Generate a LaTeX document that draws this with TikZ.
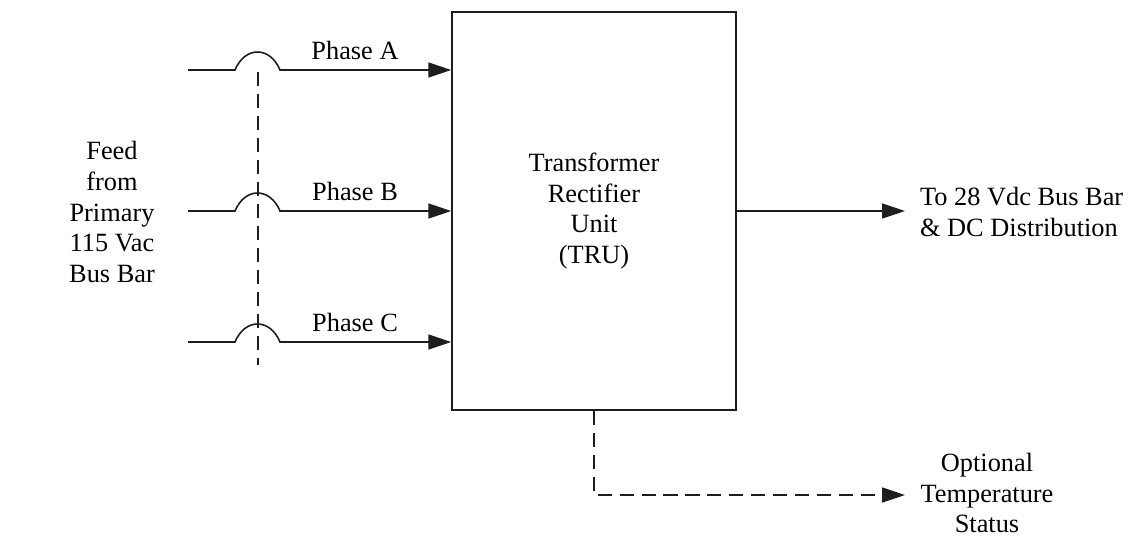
\documentclass[tikz,border=0pt]{standalone}
\usepackage{fontspec}
\setmainfont{Liberation Serif}
\usetikzlibrary{arrows.meta, positioning, calc}
\definecolor{linegray}{RGB}{30,30,30}
\tikzset{
  txt/.style={align=center, font=\fontsize{15}{17.6}\selectfont, inner sep=1pt},
  tru/.style={rectangle, draw=linegray, line width=0.9pt,
    minimum width=5.68cm, minimum height=7.96cm, txt},
  wire/.style={line width=0.9pt, draw=linegray},
  arr/.style={wire, -{Triangle[length=13pt, width=8.5pt]}},
  dsh/.style={wire, dash pattern=on 8pt off 4.5pt},
  darr/.style={arr, dash pattern=on 8pt off 4.5pt}
}

\begin{document}
\begin{tikzpicture}[x=0.02cm, y=-0.02cm]
  \useasboundingbox (0,0) rectangle (1136,538);

  \node[tru] (box) at (594,211) {Transformer\\Rectifier\\Unit\\(TRU)};
  \node[txt] (feed) at (112,212) {Feed\\from\\Primary\\115 Vac\\Bus Bar};

  % three phase inputs with hop over the dashed line
  \foreach \ph/\yy in {A/70, B/211, C/342}{
    \coordinate (in\ph) at (188,\yy);
    \draw[arr] (in\ph) -- ++(47,0) .. controls +(10,-24) and +(-10,-24) .. ++(45,0)
      -- (box.west |- in\ph);
    \node[txt] (lab\ph) at (355,\yy-20) {Phase \ph};
  }
  \coordinate (dtop) at (258,72);
  \coordinate (dbot) at (258,365);
  \draw[dsh] (dtop) -- (dbot);

  % outputs
  \coordinate (outdc) at (905,211);
  \draw[arr] (box.east |- outdc) -- (outdc);
  \node[txt, align=left, anchor=west] (dcbus) at (918,212) {To 28 Vdc Bus Bar\\\& DC Distribution};

  \coordinate (tcorner) at (594,495);
  \coordinate (tend) at (905,495);
  \draw[darr] (box.south -| tcorner) -- (tcorner) -- (tend);
  \node[txt] (temp) at (987,493) {Optional\\Temperature\\Status};
\end{tikzpicture}
\end{document}
